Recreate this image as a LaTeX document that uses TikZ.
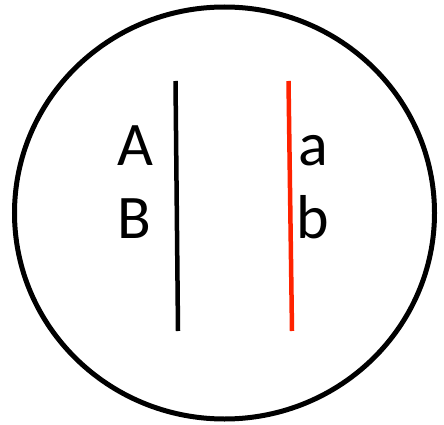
\documentclass[tikz,border=0pt]{standalone}
\usepackage{fontspec}
\setmainfont{Carlito}
\definecolor{chromred}{HTML}{FF2200}
\tikzset{
  rim/.style={line width=5pt, draw=black},
  chrom/.style={line width=4.5pt},
  allele/.style={inner sep=0pt, anchor=base west, font=\fontsize{62}{62}\selectfont}
}
\begin{document}
\begin{tikzpicture}[x=1pt,y=-1pt]
\useasboundingbox (0,0) rectangle (444,425);
\draw[rim] (224.5,213) ellipse [x radius=210, y radius=206];
\coordinate (k1) at (175.5,81);
\coordinate (k2) at (178,331);
\coordinate (r1) at (288.5,81);
\coordinate (r2) at (292,331);
\draw[chrom, black] (k1) -- (k2);
\draw[chrom, chromred] (r1) -- (r2);
\node[allele] (A) at (117,165) {A};
\node[allele] (B) at (117,238) {B};
\node[allele] (a) at (298,165) {a};
\node[allele] (b) at (296,238) {b};
\end{tikzpicture}
\end{document}
